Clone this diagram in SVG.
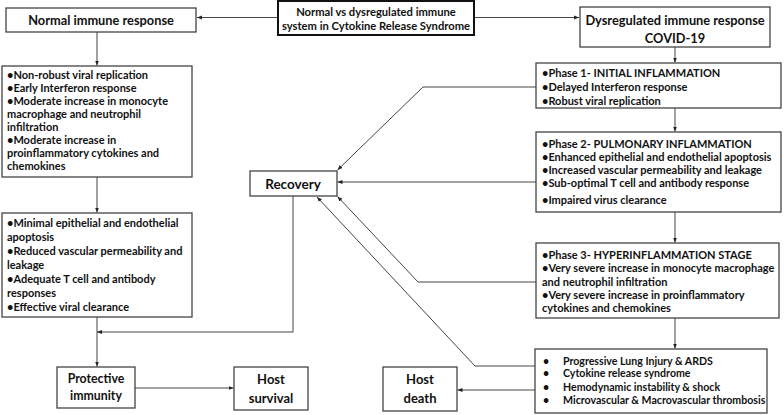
<svg xmlns="http://www.w3.org/2000/svg" width="784" height="415" viewBox="0 0 784 415">
<defs>
<marker id="ah" viewBox="0 0 10 10" refX="10" refY="5" markerWidth="5" markerHeight="5" orient="auto" markerUnits="userSpaceOnUse">
<path d="M0,1 L10,5 L0,9 Z" fill="#222"/>
</marker>
<style>
.box{fill:#fff;stroke:#444;stroke-width:1.3}
.bx2{fill:#fff;stroke:#111;stroke-width:2}
.t{font-family:Lato,"Open Sans","Liberation Sans",sans-serif;font-weight:bold;fill:#111}
.h{font-size:12.8px}
.b{font-size:11px}
.c{font-size:10.6px}
.m{text-anchor:middle}
.ln{fill:none;stroke:#444;stroke-width:1}
.ar{fill:none;stroke:#444;stroke-width:1;marker-end:url(#ah)}
</style>
</defs>
<rect width="784" height="415" fill="#fff"/>

<g id="connectors">
<path class="ar" d="M278,17.5 L197,17.5"/>
<path class="ar" d="M474,17.5 L579,17.5"/>
<path class="ar" d="M97,32 L97,65.5"/>
<path class="ar" d="M97,177 L97,212.5"/>
<path class="ln" d="M97,317 L97,332"/>
<path class="ar" d="M293,196 L293,332 L97,332"/>
<path class="ar" d="M97,332 L97,366.5"/>
<path class="ar" d="M135,388 L233.5,388"/>
<path class="ar" d="M675,47 L675,62.5"/>
<path class="ar" d="M675,108 L675,131.5"/>
<path class="ar" d="M675,212 L675,242.5"/>
<path class="ar" d="M675,318 L675,348.5"/>
<path class="ar" d="M536,87 L423,87 L337.5,170"/>
<path class="ar" d="M536,182 L337.5,182"/>
<path class="ar" d="M536,282 L418,282 L337.5,196.5"/>
<path class="ar" d="M535,366 L475,366 L317,197"/>
<path class="ar" d="M535,390 L457.5,390"/>
</g>

<g id="title">
<rect class="bx2" x="278" y="1" width="196" height="34"/>
<text class="t m" x="376" y="15.5" font-size="11.2">Normal vs dysregulated immune</text>
<text class="t m" x="376" y="30" font-size="11.2">system in Cytokine Release Syndrome</text>
</g>

<g id="normal">
<rect class="box" x="6" y="8" width="190" height="24"/>
<text class="t h m" x="101" y="24.5">Normal immune response</text>
</g>

<g id="dysregulated">
<rect class="box" x="580" y="7" width="190" height="40"/>
<text class="t h m" x="675" y="24.5">Dysregulated immune response</text>
<text class="t h m" x="675" y="43">COVID-19</text>
</g>

<g id="normal-early">
<rect class="box" x="2" y="66" width="190" height="111"/>
<text class="t b" x="7" y="79">•Non-robust viral replication</text>
<text class="t b" x="7" y="92">•Early Interferon response</text>
<text class="t b" x="7" y="105">•Moderate increase in monocyte</text>
<text class="t b" x="7" y="118">macrophage and neutrophil</text>
<text class="t b" x="7" y="131">infiltration</text>
<text class="t b" x="7" y="144">•Moderate increase in</text>
<text class="t b" x="7" y="157">proinflammatory cytokines and</text>
<text class="t b" x="7" y="170">chemokines</text>
</g>

<g id="normal-late">
<rect class="box" x="2" y="213" width="190" height="104"/>
<text class="t b" x="7" y="227">•Minimal epithelial and endothelial</text>
<text class="t b" x="7" y="241">apoptosis</text>
<text class="t b" x="7" y="255">•Reduced vascular permeability and</text>
<text class="t b" x="7" y="269">leakage</text>
<text class="t b" x="7" y="283">•Adequate T cell and antibody</text>
<text class="t b" x="7" y="297">responses</text>
<text class="t b" x="7" y="311">•Effective viral clearance</text>
</g>

<g id="recovery">
<rect class="box" x="250" y="171" width="87" height="25"/>
<text class="t m" x="293" y="188.5" font-size="13.5">Recovery</text>
</g>

<g id="protective">
<rect class="box" x="57" y="367" width="78" height="41"/>
<text class="t m" x="96" y="383" font-size="12.3">Protective</text>
<text class="t m" x="96" y="400" font-size="12.3">immunity</text>
</g>

<g id="survival">
<rect class="box" x="234" y="367" width="74" height="43"/>
<text class="t m" x="271" y="384" font-size="13">Host</text>
<text class="t m" x="271" y="403" font-size="13">survival</text>
</g>

<g id="death">
<rect class="box" x="383" y="367" width="74" height="44"/>
<text class="t m" x="420" y="384" font-size="13">Host</text>
<text class="t m" x="420" y="403" font-size="13">death</text>
</g>

<g id="phase1">
<rect class="box" x="536" y="63" width="245" height="45"/>
<text class="t b" x="542" y="77">•Phase 1- INITIAL INFLAMMATION</text>
<text class="t b" x="542" y="91">•Delayed Interferon response</text>
<text class="t b" x="542" y="105">•Robust viral replication</text>
</g>

<g id="phase2">
<rect class="box" x="536" y="132" width="245" height="80"/>
<text class="t b" x="542" y="148">•Phase 2- PULMONARY INFLAMMATION</text>
<text class="t b" x="542" y="161">•Enhanced epithelial and endothelial apoptosis</text>
<text class="t b" x="542" y="174">•Increased vascular permeability and leakage</text>
<text class="t b" x="542" y="187">•Sub-optimal T cell and antibody response</text>
<text class="t b" x="542" y="204">•Impaired virus clearance</text>
</g>

<g id="phase3">
<rect class="box" x="536" y="243" width="243" height="75"/>
<text class="t b" x="542" y="259">•Phase 3- HYPERINFLAMMATION STAGE</text>
<text class="t b" x="542" y="272">•Very severe increase in monocyte macrophage</text>
<text class="t b" x="542" y="286">and neutrophil infiltration</text>
<text class="t b" x="542" y="299">•Very severe increase in proinflammatory</text>
<text class="t b" x="542" y="312">cytokines and chemokines</text>
</g>

<g id="outcome">
<rect class="box" x="535" y="349" width="232" height="64"/>
<text class="t c" x="543" y="365">•</text>
<text class="t c" x="563" y="365">Progressive Lung Injury &amp; ARDS</text>
<text class="t c" x="543" y="377">•</text>
<text class="t c" x="563" y="377">Cytokine release syndrome</text>
<text class="t c" x="543" y="391">•</text>
<text class="t c" x="563" y="391">Hemodynamic instability &amp; shock</text>
<text class="t c" x="543" y="404">•</text>
<text class="t c" x="563" y="404">Microvascular &amp; Macrovascular thrombosis</text>
</g>
</svg>
